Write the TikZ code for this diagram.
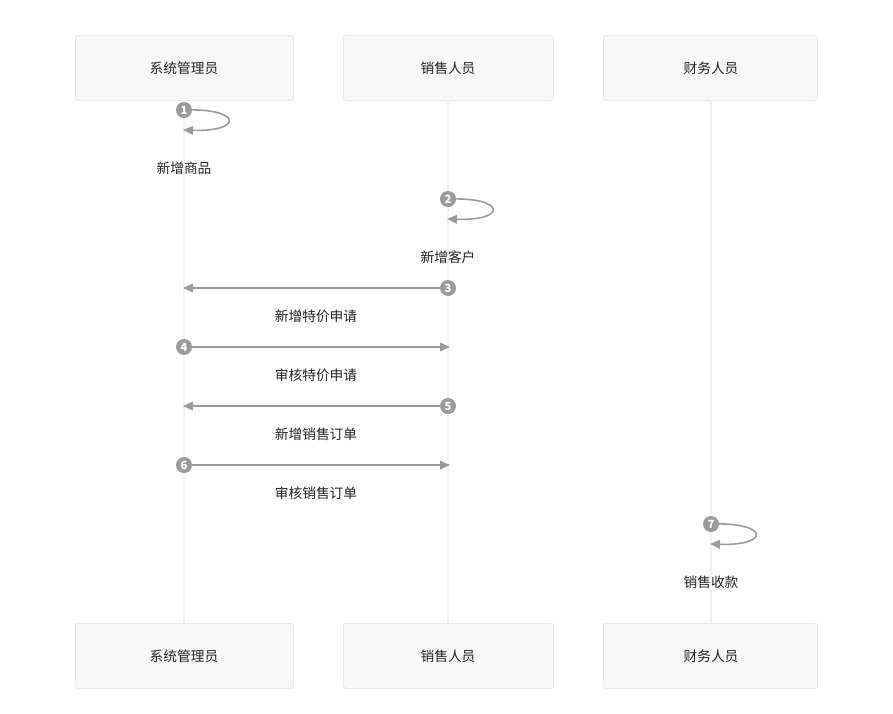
\documentclass[tikz,border=0pt]{standalone}
\usepackage{fontspec}
\setmainfont{Noto Sans CJK SC}
\usetikzlibrary{arrows.meta}
\definecolor{boxfill}{HTML}{F8F8F8}
\definecolor{boxline}{HTML}{E6E6E6}
\definecolor{lifeline}{HTML}{F1F1F1}
\definecolor{msg}{HTML}{9A9A9A}
\definecolor{txt}{HTML}{222222}
\tikzset{
  actor/.style={draw=boxline, fill=boxfill, rounded corners=2pt, line width=0.6pt, text=txt, anchor=north west},
  life/.style={draw=lifeline, line width=0.8pt},
  num/.style={circle, fill=msg, inner sep=0pt, minimum size=12pt, text=white, font=\fontsize{8.5}{9}\selectfont\bfseries},
  msgline/.style={draw=msg, line width=1.2pt, -{Triangle[length=7.5pt,width=6.5pt]}},
  lbl/.style={text=txt, font=\fontsize{10.3}{12}\selectfont},
}
\begin{document}
\begin{tikzpicture}[x=0.75pt,y=-0.75pt]
\useasboundingbox (0,0) rectangle (893,714);
% actor boxes
\node[actor, minimum width=218*0.75pt, minimum height=65*0.75pt] (a1) at (75,35) {};
\node[actor, minimum width=210*0.75pt, minimum height=65*0.75pt] (a2) at (343,35) {};
\node[actor, minimum width=214*0.75pt, minimum height=65*0.75pt] (a3) at (603,35) {};
\node[actor, minimum width=218*0.75pt, minimum height=65*0.75pt] (b1) at (75,623) {};
\node[actor, minimum width=210*0.75pt, minimum height=65*0.75pt] (b2) at (343,623) {};
\node[actor, minimum width=214*0.75pt, minimum height=65*0.75pt] (b3) at (603,623) {};
\node[lbl] (t1) at (184,68) {系统管理员};
\node[lbl] (t2) at (448,68) {销售人员};
\node[lbl] (t3) at (711,68) {财务人员};
\node[lbl] (u1) at (184,656) {系统管理员};
\node[lbl] (u2) at (448,656) {销售人员};
\node[lbl] (u3) at (711,656) {财务人员};
% lifelines
\coordinate (l1t) at (184,100); \coordinate (l1b) at (184,623);
\coordinate (l2t) at (448,100); \coordinate (l2b) at (448,623);
\coordinate (l3t) at (711,100); \coordinate (l3b) at (711,623);
\draw[life] (l1t) -- (l1b);
\draw[life] (l2t) -- (l2b);
\draw[life] (l3t) -- (l3b);
% 1 self loop
\coordinate (e1) at (183,130);
\draw[msgline] (184,110) .. controls (243,108) and (243,132) .. (e1);
\node[num] (n1) at (184,110) {1};
\node[lbl] (m1) at (184,168) {新增商品};
% 2 self loop
\coordinate (e2) at (447,219);
\draw[msgline] (448,199) .. controls (507,197) and (507,221) .. (e2);
\node[num] (n2) at (448,199) {2};
\node[lbl] (m2) at (448,257) {新增客户};
% 3
\coordinate (e3) at (183,288);
\node[num] (n3) at (448,288) {3};
\draw[msgline] (n3) -- (e3);
\node[lbl] (m3) at (316,316) {新增特价申请};
% 4
\coordinate (e4) at (450,347);
\node[num] (n4) at (184,347) {4};
\draw[msgline] (n4) -- (e4);
\node[lbl] (m4) at (316,375) {审核特价申请};
% 5
\coordinate (e5) at (183,406);
\node[num] (n5) at (448,406) {5};
\draw[msgline] (n5) -- (e5);
\node[lbl] (m5) at (316,434) {新增销售订单};
% 6
\coordinate (e6) at (450,465);
\node[num] (n6) at (184,465) {6};
\draw[msgline] (n6) -- (e6);
\node[lbl] (m6) at (316,493) {审核销售订单};
% 7 self loop
\coordinate (e7) at (710,544);
\draw[msgline] (711,524) .. controls (770,522) and (770,546) .. (e7);
\node[num] (n7) at (711,524) {7};
\node[lbl] (m7) at (711,582) {销售收款};
\end{tikzpicture}
\end{document}
